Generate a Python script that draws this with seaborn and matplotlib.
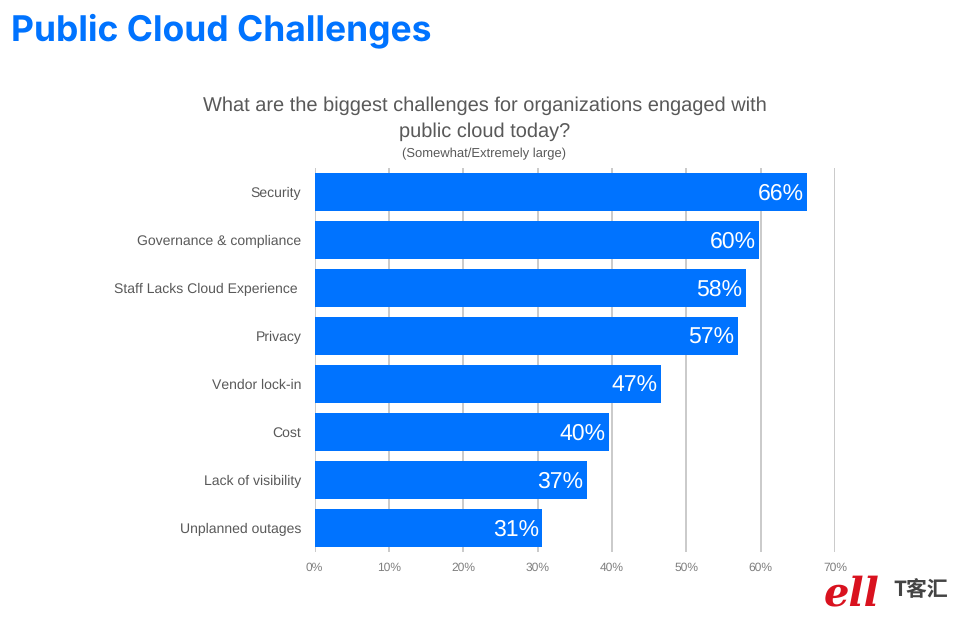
import matplotlib
matplotlib.use("Agg")
import matplotlib.pyplot as plt
import seaborn as sns
import pandas as pd

categories = ["Security", "Governance & compliance", "Staff Lacks Cloud Experience ", "Privacy",
              "Vendor lock-in", "Cost", "Lack of visibility", "Unplanned outages"]
values = [66.2, 59.8, 58.0, 56.9, 46.6, 39.6, 36.6, 30.6]
labels = ["66%", "60%", "58%", "57%", "47%", "40%", "37%", "31%"]
xticks = [0, 10, 20, 30, 40, 50, 60, 70]

BLUE = "#0073FF"
sns.set_theme(style="white")
plt.rcParams["font.family"] = ["Liberation Sans", "DejaVu Sans"]
plt.rcParams["text.hinting"] = "no_hinting"
plt.rcParams["text.hinting_factor"] = 1

W, H = 960, 620
fig = plt.figure(figsize=(W / 100, H / 100), dpi=100, facecolor="white")
ax = fig.add_axes([314.5 / W, 1 - 552 / H, (835 - 314.5) / W, (552 - 168) / H])

df = pd.DataFrame({"category": categories, "value": values})
sns.barplot(data=df, y="category", x="value", color=BLUE, saturation=1, width=0.775, ax=ax,
            linewidth=0, zorder=2)

ax.set_xlim(0, 70)
ax.set_ylim(7.5, -0.5)
ax.set_xlabel("")
ax.set_ylabel("")
ax.set_xticks(xticks)
ax.set_xticklabels([f"{t}%" for t in xticks], color="#7f7f7f", fontsize=8.5)
ax.tick_params(axis="x", length=0, pad=7.5)
ax.tick_params(axis="y", length=0, pad=9.5, labelsize=10, labelcolor="#595959")
ax.grid(axis="x", color="#c6c6c6", linewidth=1.3, zorder=0)
ax.grid(axis="y", visible=False)
ax.set_axisbelow(True)
for s in ax.spines.values():
    s.set_visible(False)

for bar, lab in zip(ax.patches, labels):
    ax.text(bar.get_width() - 0.45, bar.get_y() + bar.get_height() / 2 + 0.04, lab,
            ha="right", va="center", color="white", fontsize=16.5)

fig.text(11 / W, 1 - 31 / H, "Public Cloud Challenges", color=BLUE, fontsize=25.5,
         fontweight="bold", family="Inter", va="center", ha="left")
fig.text(484.5 / W, 1 - 106 / H, "What are the biggest challenges for organizations engaged with",
         color="#595959", fontsize=14.7, ha="center", va="center")
fig.text(484.5 / W, 1 - 132 / H, "public cloud today?", color="#595959", fontsize=14.7,
         ha="center", va="center")
fig.text(484.5 / W, 1 - 154 / H, "(Somewhat/Extremely large)", color="#595959", fontsize=9.6,
         ha="center", va="center")

# watermark
fig.text(852 / W, 1 - 594 / H, "ell", color="#D9121F", fontsize=29, style="italic", fontweight="bold",
         family="DejaVu Serif", ha="center", va="center")
fig.text(921 / W, 1 - 590 / H, "T客汇", color="#444444", fontsize=15, fontweight="bold",
         family=["Noto Sans CJK SC", "DejaVu Sans"], ha="center", va="center")

fig.savefig("out.png", dpi=100, facecolor="white")
